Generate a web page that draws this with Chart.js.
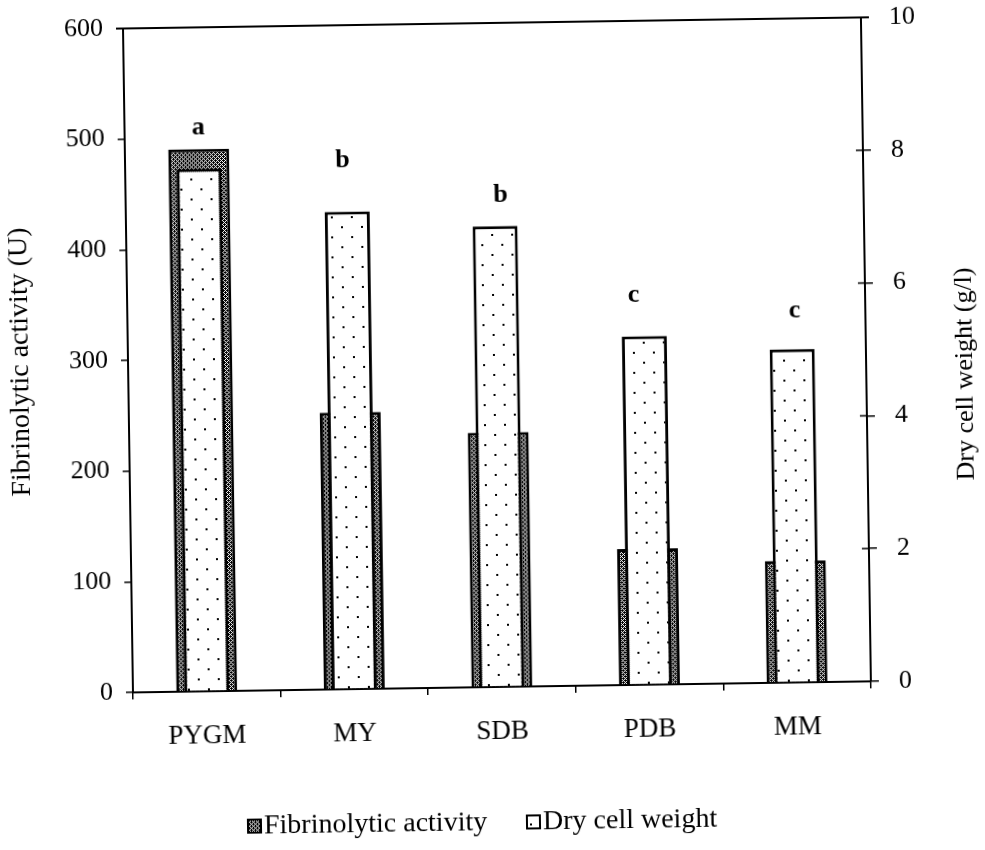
<!DOCTYPE html>
<html>
<head>
<meta charset="utf-8">
<title>Fibrinolytic activity and dry cell weight</title>
<script src="https://cdn.jsdelivr.net/npm/chart.js@4.4.1/dist/chart.umd.min.js"></script>
<style>
  html, body { margin: 0; padding: 0; background: #fff; overflow: hidden; }
  #wrap { width: 985px; height: 850px; transform: rotate(-0.86deg); transform-origin: 50% 50%; }
</style>
</head>
<body>
<div id="wrap"><canvas id="chart" width="985" height="850"></canvas></div>
<script>
// culture media and measured values
const media = ['PYGM', 'MY', 'SDB', 'PDB', 'MM'];
const fibrinolytic = [490, 250, 230, 123, 110];      // U
const dryWeight = [7.87, 7.19, 6.94, 5.25, 5.02];    // g/l
const groupLetters = ['a', 'b', 'b', 'c', 'c'];
const leftTicks = [0, 100, 200, 300, 400, 500, 600];
const rightTicks = [0, 2, 4, 6, 8, 10];

const FONT = "'Liberation Serif', 'Times New Roman', serif";
Chart.defaults.font.family = FONT;
Chart.defaults.font.size = 26;
Chart.defaults.color = '#000';

// dark cross-hatch fill
function hatchPattern() {
  const c = document.createElement('canvas');
  c.width = 4; c.height = 4;
  const g = c.getContext('2d');
  g.fillStyle = '#000';
  g.fillRect(0, 0, 4, 4);
  g.fillStyle = '#fff';
  [[0, 1], [1, 0], [2, 3], [3, 2], [2, 1], [0, 3]].forEach(p => g.fillRect(p[0], p[1], 1, 1));
  return g.createPattern(c, 'repeat');
}

// white fill with staggered dots
function dotPattern() {
  const c = document.createElement('canvas');
  c.width = 20; c.height = 20;
  const g = c.getContext('2d');
  g.fillStyle = '#fff';
  g.fillRect(0, 0, 20, 20);
  g.fillStyle = '#000';
  g.fillRect(4, 4, 2, 2);
  g.fillRect(14, 14, 2, 2);
  return g.createPattern(c, 'repeat');
}

const letterShift = [[0, 34], [-4, 45], [6, 24], [-10, 34], [3, 32]];
// legend: left edge of each key box, row centre
const legendX = [242, 521];
const legendY = 822;

// keep the top of the value axes flush with the frame
function noOverhang(s) {
  s.paddingTop = 0;
  s.paddingBottom = 0;
}

const extras = {
  id: 'extras',
  afterDraw(chart) {
    const ctx = chart.ctx;
    const area = chart.chartArea;
    const y1 = chart.scales.y1;
    ctx.save();
    ctx.strokeStyle = '#000';
    // frame top line
    ctx.lineWidth = 2;
    ctx.beginPath();
    ctx.moveTo(area.left - 7, area.top);
    ctx.lineTo(area.right + 8, area.top);
    ctx.stroke();
    // right axis ticks cross the axis line
    ctx.lineWidth = 1.5;
    y1.ticks.forEach(t => {
      const py = y1.getPixelForValue(t.value);
      ctx.beginPath();
      ctx.moveTo(area.right - 7, py);
      ctx.lineTo(area.right, py);
      ctx.stroke();
    });
    // right axis title, reading bottom to top
    ctx.fillStyle = '#000';
    ctx.font = '26px ' + FONT;
    ctx.textAlign = 'center';
    ctx.textBaseline = 'middle';
    ctx.save();
    ctx.translate(y1.right - 19, (y1.top + y1.bottom) / 2 + 26);
    ctx.rotate(-Math.PI / 2);
    ctx.fillText('Dry cell weight (g/l)', 0, 0);
    ctx.restore();
    // significance letters over the bars
    const meta = chart.getDatasetMeta(1);
    ctx.font = 'bold 26px ' + FONT;
    ctx.textBaseline = 'alphabetic';
    meta.data.forEach((bar, i) => {
      ctx.fillText(groupLetters[i], bar.x + letterShift[i][0], bar.y - letterShift[i][1]);
    });
    // legend keys
    ctx.font = '28px ' + FONT;
    ctx.textAlign = 'left';
    ctx.textBaseline = 'middle';
    ctx.lineWidth = 2;
    chart.data.datasets.forEach((ds, i) => {
      const bx = legendX[i];
      ctx.fillStyle = ds.backgroundColor;
      ctx.fillRect(bx, legendY - 6, 13, 13);
      ctx.strokeRect(bx, legendY - 6, 13, 13);
      ctx.fillStyle = '#000';
      ctx.fillText(ds.label, bx + 16, legendY + 1);
    });
    ctx.restore();
  }
};

new Chart(document.getElementById('chart'), {
  type: 'bar',
  data: {
    labels: media,
    datasets: [{
      label: 'Fibrinolytic activity',
      data: fibrinolytic,
      yAxisID: 'y',
      grouped: false,
      order: 2,
      backgroundColor: hatchPattern(),
      borderColor: '#000',
      borderWidth: 3,
      barPercentage: 0.413,
      categoryPercentage: 1
    }, {
      label: 'Dry cell weight',
      data: dryWeight,
      yAxisID: 'y1',
      grouped: false,
      order: 1,
      backgroundColor: dotPattern(),
      borderColor: '#000',
      borderWidth: 3,
      barPercentage: 0.305,
      categoryPercentage: 1
    }]
  },
  options: {
    responsive: false,
    animation: false,
    devicePixelRatio: 1,
    layout: { padding: { top: 23, left: 0, right: 0, bottom: 64 } },
    plugins: {
      tooltip: { enabled: false },
      legend: { display: false }
    },
    scales: {
      x: {
        offset: true,
        border: { color: '#000', width: 2 },
        grid: { offset: true, drawOnChartArea: false, drawTicks: true, tickLength: 7, color: '#000', lineWidth: 1.5 },
        ticks: { padding: 22, font: { size: 27 } },
        afterFit(s) { s.height = 99; }
      },
      y: {
        position: 'left',
        min: 0,
        max: 600,
        afterBuildTicks(s) { s.ticks = leftTicks.map(v => ({ value: v })); },
        border: { color: '#000', width: 2 },
        grid: { drawOnChartArea: false, drawTicks: true, tickLength: 7, color: '#000', lineWidth: 1.5 },
        ticks: { padding: 13, font: { size: 26 } },
        title: { display: true, text: 'Fibrinolytic activity (U)', font: { size: 28 }, padding: { top: 5, bottom: 0 } },
        afterFit(s) { s.width = 129; noOverhang(s); }
      },
      y1: {
        position: 'right',
        min: 0,
        max: 10,
        afterBuildTicks(s) { s.ticks = rightTicks.map(v => ({ value: v })); },
        border: { color: '#000', width: 2 },
        grid: { drawOnChartArea: false, drawTicks: true, tickLength: 8, color: '#000', lineWidth: 1.5 },
        ticks: { padding: 20, font: { size: 26 } },
        afterFit(s) { s.width = 118; noOverhang(s); }
      }
    }
  },
  plugins: [extras]
});
</script>
</body>
</html>
